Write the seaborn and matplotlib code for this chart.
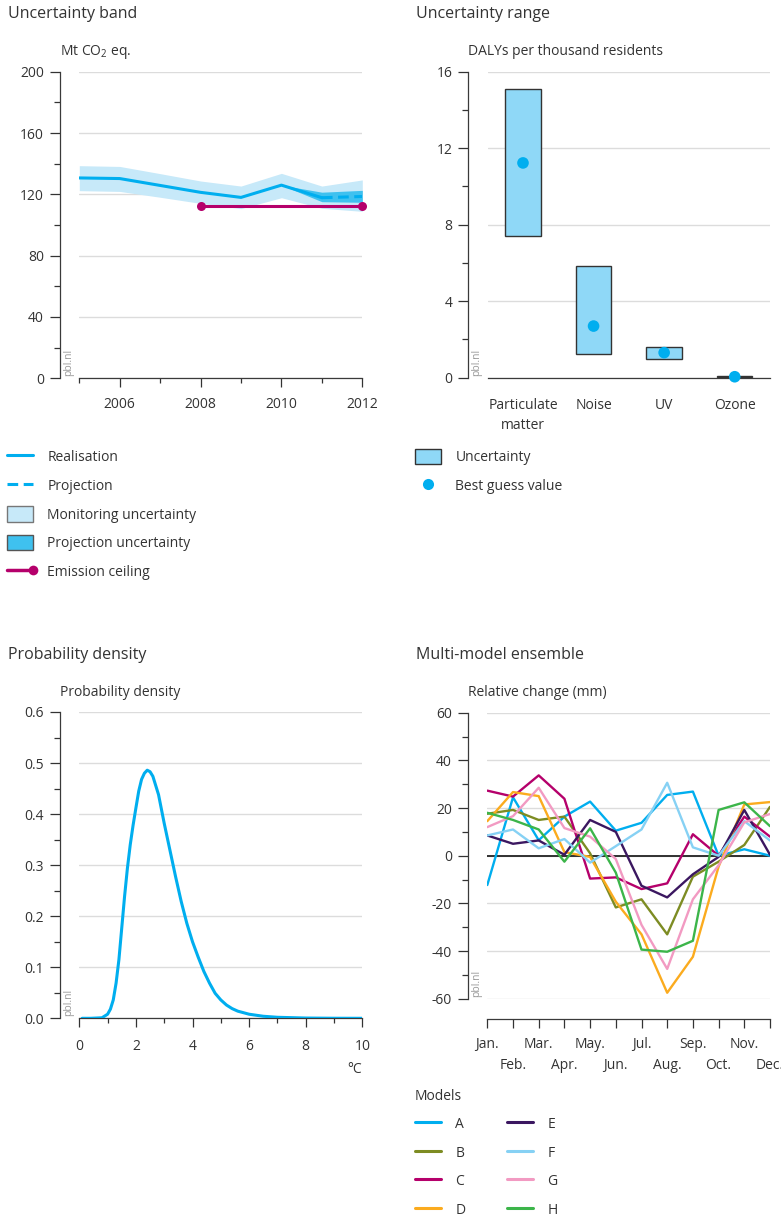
import matplotlib
matplotlib.use("Agg")
import matplotlib.pyplot as plt
import seaborn as sns
import numpy as np
from matplotlib.lines import Line2D
from matplotlib.patches import Patch
from matplotlib.ticker import MultipleLocator, FormatStrFormatter
from matplotlib.legend_handler import HandlerBase

# ---------------- data ----------------
years = [2005, 2006, 2007, 2008, 2009, 2010, 2011, 2012]
realisation_years = [2005, 2006, 2007, 2008, 2009, 2010, 2011]
realisation = [130.7, 130.3, 125.8, 121.3, 118.0, 126.0, 117.8]
projection_years = [2011, 2012]
projection = [117.8, 118.6]
monitoring_low = [122.4, 121.9, 118.1, 114.1, 110.7, 117.8, 110.9, 108.9]
monitoring_high = [138.7, 138.2, 133.5, 128.7, 125.4, 133.7, 125.4, 129.4]
proj_unc_years = [2010, 2011, 2012]
proj_unc_low = [126.0, 115.2, 114.8]
proj_unc_high = [126.0, 121.4, 122.6]
ceiling_years = [2008, 2012]
ceiling = [112.6, 112.6]

health_categories = ["Particulate\nmatter", "Noise", "UV", "Ozone"]
health_low = [7.41, 1.24, 0.96, 0.02]
health_high = [15.11, 5.82, 1.59, 0.08]
health_best = [11.23, 2.70, 1.31, 0.05]

temperature = [0.1, 0.4, 0.8, 1.0, 1.1, 1.2, 1.3, 1.4, 1.5, 1.6, 1.7, 1.8, 1.9,
               2.0, 2.1, 2.2, 2.3, 2.4, 2.5, 2.6, 2.8, 3.0, 3.2, 3.4, 3.6, 3.8,
               4.0, 4.2, 4.4, 4.6, 4.8, 5.0, 5.2, 5.4, 5.6, 6.0, 6.5, 7.0, 8.0,
               9.0, 10.0]
density = [0.0, 0.0, 0.001, 0.008, 0.018, 0.036, 0.069, 0.115, 0.177, 0.239,
           0.294, 0.340, 0.378, 0.412, 0.445, 0.468, 0.480, 0.486, 0.483,
           0.474, 0.438, 0.382, 0.330, 0.278, 0.229, 0.186, 0.150, 0.120,
           0.092, 0.069, 0.049, 0.036, 0.026, 0.019, 0.014, 0.008, 0.004,
           0.002, 0.0005, 0.0001, 0.0]

months = ["Jan.", "Feb.", "Mar.", "Apr.", "May.", "Jun.", "Jul.", "Aug.",
          "Sep.", "Oct.", "Nov.", "Dec."]
model_names = ["A", "B", "C", "D", "E", "F", "G", "H"]
model_a = [-12.3, 24.5, 6.5, 16.4, 22.7, 10.5, 13.8, 25.5, 26.9, 0.0, 2.7, 0.0]
model_b = [17.6, 19.2, 15.0, 16.4, 1.0, -21.7, -18.3, -33.0, -8.8, -2.5, 4.5, 20.5]
model_c = [27.3, 24.8, 33.7, 23.9, -9.6, -9.1, -14.0, -11.6, 9.0, 0.0, 16.4, 8.0]
model_d = [14.5, 26.7, 25.0, 1.5, -0.5, -19.3, -33.0, -57.5, -42.4, -4.6, 21.5, 22.5]
model_e = [8.5, 5.0, 6.4, 0.4, 15.0, 10.0, -12.6, -17.5, -7.8, -0.5, 19.2, 0.4]
model_f = [8.5, 11.0, 3.1, 7.0, -2.9, 4.0, 11.0, 30.6, 3.5, 0.0, 14.5, 6.4]
model_g = [12.0, 16.6, 28.5, 11.6, 8.0, -1.4, -29.0, -47.5, -18.3, -4.0, 14.0, 17.5]
model_h = [18.0, 15.0, 11.0, -2.5, 11.5, -7.1, -39.4, -40.3, -35.7, 19.2, 22.4, 12.4]
model_values = [model_a, model_b, model_c, model_d, model_e, model_f, model_g, model_h]
model_colors = ["#00aeef", "#7d8c23", "#b5006b", "#fbab1e", "#3b1760",
                "#86d1f4", "#f29ac2", "#3cb54a"]

# ---------------- style ----------------
sns.set_theme(style="white")
DARK = "#333333"
GRID = "#dcdcdc"
BLUE = "#00aeef"
LIGHT = "#c7e9f9"
MID = "#3fc1ef"
MAGENTA = "#b5006b"
plt.rcParams.update({
    "font.family": ["Open Sans", "DejaVu Sans"],
    "text.color": DARK,
    "axes.labelcolor": DARK,
    "xtick.color": DARK,
    "ytick.color": DARK,
    "axes.edgecolor": "#3a3a3a",
    "axes.linewidth": 0.9,
    "axes.unicode_minus": False,
    "mathtext.fontset": "custom",
    "mathtext.rm": "Open Sans",
    "mathtext.it": "Open Sans:italic",
})

W, H = 781, 1218
PX = 0.72
fig = plt.figure(figsize=(W / 100, H / 100), dpi=100)


def add_ax(l, t, r, b):
    return fig.add_axes([l / W, 1 - b / H, (r - l) / W, (b - t) / H])


def base_style(ax):
    ax.spines["top"].set_visible(False)
    ax.spines["right"].set_visible(False)
    ax.spines["left"].set_position(("outward", 19.5 * PX))
    ax.tick_params(axis="y", which="major", left=True, length=10 * PX,
                   width=0.9, pad=6 * PX, labelsize=10)
    ax.tick_params(axis="y", which="minor", left=True, length=6 * PX, width=0.9)
    ax.grid(False)
    ax.yaxis.grid(True, which="major", color=GRID, lw=1.0)
    ax.set_axisbelow(True)
    ax.annotate("pbl.nl", xy=(0, 0), xycoords="axes fraction", xytext=(-11, 2),
                textcoords="offset pixels", rotation=90, ha="center", va="bottom",
                fontsize=7.5, color="#9a9a9a")


def unit_label(ax, text):
    ax.annotate(text, xy=(0, 1), xycoords="axes fraction", xytext=(-19.5, 20),
                textcoords="offset pixels", ha="left", va="center", fontsize=10)


def title(x, y, text):
    fig.text(x / W, 1 - y / H, text, ha="left", va="center", fontsize=11.5)


class CeilingHandler(HandlerBase):
    """Line with a single dot at its right end."""

    def create_artists(self, legend, orig_handle, xdescent, ydescent, width,
                       height, fontsize, trans):
        y = (height - ydescent) / 2
        x0, x1 = -xdescent, -xdescent + width
        line = Line2D([x0, x1], [y, y], color=orig_handle.get_color(),
                      lw=orig_handle.get_linewidth(), transform=trans)
        dot = Line2D([x1], [y], color=orig_handle.get_color(), marker="o",
                     markersize=orig_handle.get_markersize(), markeredgewidth=0,
                     linestyle="none", transform=trans)
        return [line, dot]


LEG_KW = dict(loc="upper left", bbox_transform=fig.transFigure, frameon=False,
              fontsize=10, borderpad=0, borderaxespad=0, handlelength=1.9,
              handleheight=1.3, handletextpad=1.0, labelspacing=0.9)

# ---------------- panel 1: uncertainty band ----------------
ax1 = add_ax(79.3, 71.7, 362.3, 378.3)
base_style(ax1)
ax1.fill_between(years, monitoring_low, monitoring_high, color=LIGHT, lw=0, zorder=1)
ax1.fill_between(proj_unc_years, proj_unc_low, proj_unc_high, color=MID, lw=0, zorder=2)
sns.lineplot(x=realisation_years, y=realisation, ax=ax1, color=BLUE, lw=2.2, zorder=3)
sns.lineplot(x=projection_years, y=projection, ax=ax1, color=BLUE, lw=2.2,
             linestyle=(0, (3.5, 1.8)), zorder=3)
sns.lineplot(x=ceiling_years, y=ceiling, ax=ax1, color=MAGENTA, lw=2.2, marker="o",
             markersize=6.5, markeredgewidth=0, zorder=4, clip_on=False)
ax1.set_xlim(2005, 2012)
ax1.set_ylim(0, 200)
ax1.yaxis.set_major_locator(MultipleLocator(40))
ax1.yaxis.set_minor_locator(MultipleLocator(20))
ax1.set_xticks([2006, 2008, 2010, 2012])
ax1.set_xticks([2005, 2007, 2009, 2011], minor=True)
ax1.tick_params(axis="x", which="major", bottom=True, length=9 * PX, width=0.9,
                pad=10 * PX, labelsize=10)
ax1.tick_params(axis="x", which="minor", bottom=True, length=5 * PX, width=0.9)
ax1.set_xlabel("")
ax1.set_ylabel("")
unit_label(ax1, r"Mt CO$_\mathregular{2}$ eq.")
title(8, 14, "Uncertainty band")

ceiling_handle = Line2D([], [], color=MAGENTA, lw=2.5, marker="o", markersize=7)
leg1_handles = [
    Line2D([], [], color=BLUE, lw=2.2),
    Line2D([], [], color=BLUE, lw=2.2, linestyle=(0, (3.5, 1.8))),
    Patch(facecolor=LIGHT, edgecolor="#777777", lw=1.0),
    Patch(facecolor=MID, edgecolor="#555555", lw=1.0),
    ceiling_handle,
]
fig.legend(leg1_handles,
           ["Realisation", "Projection", "Monitoring uncertainty",
            "Projection uncertainty", "Emission ceiling"],
           bbox_to_anchor=(7 / W, 1 - 449 / H),
           handler_map={ceiling_handle: CeilingHandler()}, **LEG_KW)

# ---------------- panel 2: uncertainty range ----------------
ax2 = add_ax(487.7, 71.7, 770, 377.7)
base_style(ax2)
xpos = np.arange(len(health_categories))
ax2.bar(xpos, np.array(health_high) - np.array(health_low), bottom=health_low,
        width=0.5, color="#8fd8f7", edgecolor="#333333", lw=1.0, zorder=2)
sns.scatterplot(x=xpos, y=health_best, ax=ax2, color=BLUE, s=70, edgecolor="none",
                zorder=3, clip_on=False)
ax2.set_xlim(-0.5, 3.5)
ax2.set_ylim(0, 16)
ax2.yaxis.set_major_locator(MultipleLocator(4))
ax2.yaxis.set_minor_locator(MultipleLocator(2))
ax2.set_xticks(xpos, health_categories)
ax2.tick_params(axis="x", which="both", bottom=False, length=0, pad=14.5, labelsize=10)
for lab in ax2.get_xticklabels():
    lab.set_linespacing(1.45)
ax2.set_xlabel("")
ax2.set_ylabel("")
unit_label(ax2, "DALYs per thousand residents")
title(416, 14, "Uncertainty range")

leg2_handles = [
    Patch(facecolor="#8fd8f7", edgecolor="#333333", lw=1.0),
    Line2D([], [], color=BLUE, marker="o", linestyle="none", markersize=8,
           markeredgewidth=0),
]
fig.legend(leg2_handles, ["Uncertainty", "Best guess value"],
           bbox_to_anchor=(415 / W, 1 - 449 / H), **LEG_KW)

# ---------------- panel 3: probability density ----------------
ax3 = add_ax(79.3, 712, 362.3, 1018.3)
base_style(ax3)
sns.lineplot(x=temperature, y=density, ax=ax3, color=BLUE, lw=2.2, zorder=3)
ax3.set_xlim(0, 10)
ax3.set_ylim(0, 0.6)
ax3.yaxis.set_major_locator(MultipleLocator(0.1))
ax3.yaxis.set_minor_locator(MultipleLocator(0.05))
ax3.yaxis.set_major_formatter(FormatStrFormatter("%.1f"))
ax3.xaxis.set_major_locator(MultipleLocator(2))
ax3.xaxis.set_minor_locator(MultipleLocator(1))
ax3.tick_params(axis="x", which="major", bottom=True, length=9 * PX, width=0.9,
                pad=12 * PX, labelsize=10)
ax3.tick_params(axis="x", which="minor", bottom=True, length=5 * PX, width=0.9)
ax3.set_xlabel("")
ax3.set_ylabel("")
unit_label(ax3, "Probability density")
ax3.annotate("°C", xy=(1, 0), xycoords="axes fraction", xytext=(0, -51),
             textcoords="offset pixels", ha="right", va="center", fontsize=10)
title(8, 655, "Probability density")

# ---------------- panel 4: multi-model ensemble ----------------
ax4 = add_ax(487.3, 712.7, 770, 998.7)
base_style(ax4)
ax4.spines["bottom"].set_position(("outward", 20 * PX))
month_idx = np.arange(len(months))
for name, vals, col in zip(model_names, model_values, model_colors):
    sns.lineplot(x=month_idx, y=vals, ax=ax4, color=col, lw=1.7, zorder=3)
ax4.axhline(0, color="#222222", lw=1.3, zorder=2)
ax4.set_xlim(0, 11)
ax4.set_ylim(-60, 60)
ax4.yaxis.set_major_locator(MultipleLocator(20))
ax4.yaxis.set_minor_locator(MultipleLocator(10))
ax4.set_xticks(month_idx[0::2], months[0::2])
ax4.set_xticks(month_idx[1::2], months[1::2], minor=True)
ax4.tick_params(axis="x", which="major", bottom=True, length=8.7 * PX, width=0.9,
                pad=10 * PX, labelsize=10)
ax4.tick_params(axis="x", which="minor", bottom=True, length=8.7 * PX, width=0.9,
                pad=31 * PX, labelsize=10)
ax4.set_xlabel("")
ax4.set_ylabel("")
unit_label(ax4, "Relative change (mm)")
title(416, 655, "Multi-model ensemble")

leg4_handles = [Line2D([], [], color=c, lw=2.2) for c in model_colors]
leg4_kw = dict(LEG_KW)
leg4_kw["labelspacing"] = 0.88
fig.legend(leg4_handles, model_names, ncol=2, title="Models", title_fontsize=10,
           alignment="left", bbox_to_anchor=(415 / W, 1 - 1089 / H),
           columnspacing=3.0, **leg4_kw)

fig.savefig("out.png", dpi=100)
